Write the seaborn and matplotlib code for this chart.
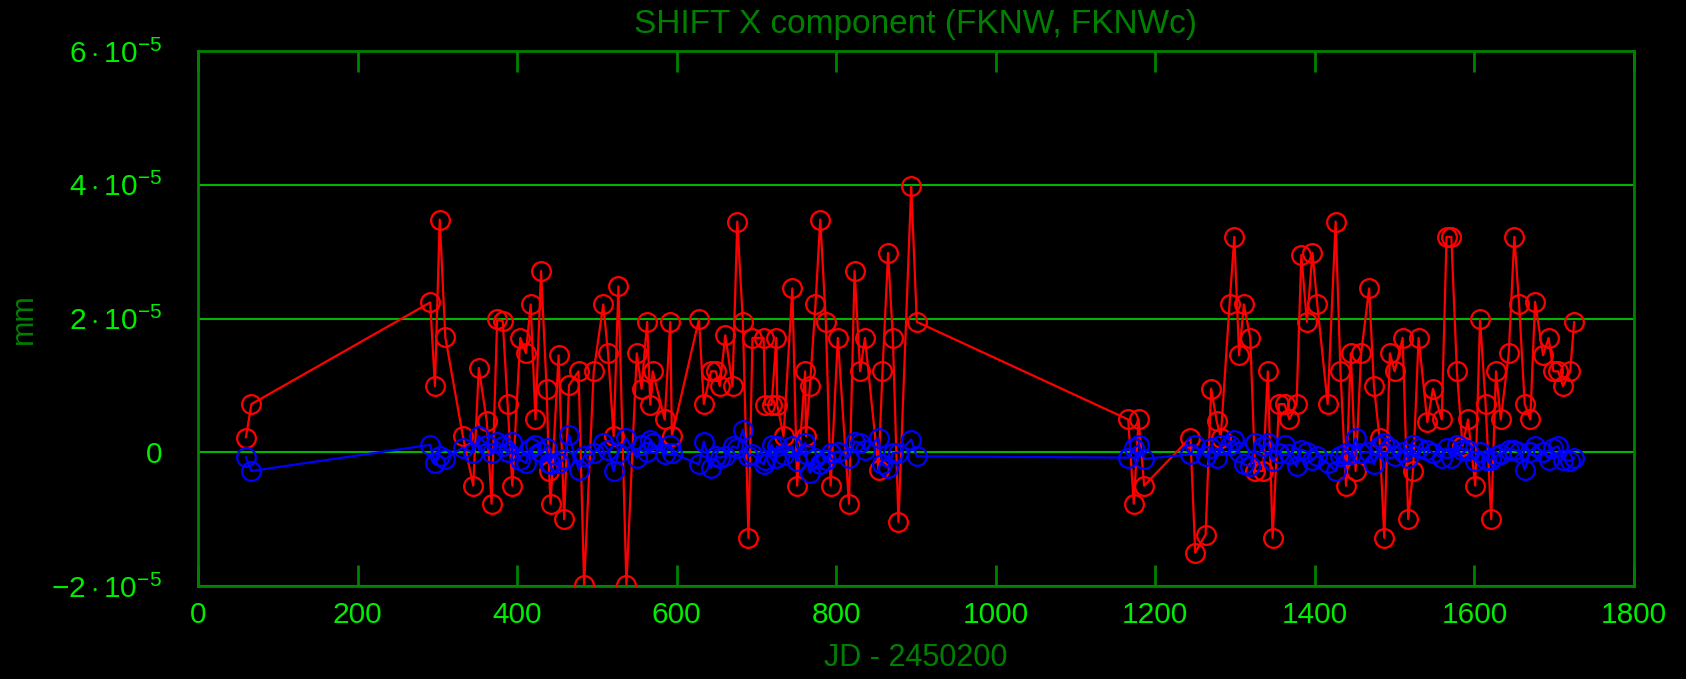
import matplotlib
matplotlib.use("Agg")
import matplotlib.pyplot as plt
import seaborn as sns
import pandas as pd

# Julian dates (JD - 2450200)
jd = [60, 67, 291, 297, 303, 310, 332, 345, 352, 362, 368, 375, 382, 388, 394, 404,
      411, 417, 423, 430, 437, 440, 442, 452, 459, 465, 477, 484, 496, 508, 514, 521,
      527, 537, 550, 556, 563, 567, 570, 585, 592, 594, 628, 634, 643, 649, 654, 661,
      670, 676, 683, 690, 695, 709, 711, 719, 725, 726, 734, 745, 751, 761, 762, 767,
      774, 780, 787, 793, 802, 816, 823, 830, 836, 853, 858, 865, 871, 878, 894, 901,
      1166, 1173, 1179, 1186, 1244, 1250, 1263, 1270, 1277, 1282, 1293, 1299, 1305,
      1311, 1319, 1325, 1335, 1341, 1347, 1355, 1362, 1368, 1377, 1383, 1390, 1397,
      1403, 1416, 1426, 1432, 1439, 1445, 1451, 1458, 1468, 1474, 1481, 1487, 1494,
      1500, 1510, 1517, 1523, 1530, 1541, 1548, 1559, 1565, 1571, 1578, 1585, 1592,
      1601, 1607, 1614, 1621, 1627, 1633, 1643, 1650, 1656, 1663, 1670, 1676, 1686,
      1693, 1699, 1705, 1711, 1720, 1725]

# FKNW shift (units of 1e-5 mm)
fknw = [0.22, 0.72, 2.24, 0.99, 3.48, 1.72, 0.24, -0.50, 1.26, 0.46, -0.77, 1.99, 1.96,
        0.72, -0.50, 1.71, 1.48, 2.21, 0.49, 2.71, 0.95, -0.28, -0.77, 1.45, -1.00, 1.00,
        1.21, -1.99, 1.21, 2.21, 1.48, 0.24, 2.48, -1.99, 1.48, 0.95, 1.95, 0.71, 1.21,
        0.49, 1.95, 0.24, 1.99, 0.72, 1.21, 1.21, 0.99, 1.75, 0.99, 3.45, 1.95, -1.28,
        1.71, 1.71, 0.71, 0.71, 1.71, 0.71, 0.24, 2.45, -0.50, 1.21, 0.24, 0.99, 2.21,
        3.48, 1.95, -0.50, 1.71, -0.77, 2.71, 1.21, 1.71, -0.26, 1.21, 2.98, 1.71, -1.04,
        3.98, 1.95,
        0.49, -0.77, 0.49, -0.50, 0.22, -1.50, -1.23, 0.95, 0.46, 0.22, 2.21, 3.22, 1.45,
        2.21, 1.71, -0.28, -0.28, 1.21, -1.28, 0.72, 0.72, 0.49, 0.72, 2.95, 1.95, 2.98,
        2.21, 0.72, 3.45, 1.22, -0.50, 1.48, -0.28, 1.48, 2.45, 0.99, 0.22, -1.28, 1.48,
        1.21, 1.71, -1.00, -0.28, 1.71, 0.45, 0.95, 0.49, 3.22, 3.22, 1.21, 0.10, 0.49,
        -0.50, 1.99, 0.72, -1.00, 1.21, 0.49, 1.48, 3.22, 2.21, 0.72, 0.49, 2.25, 1.45,
        1.71, 1.21, 1.21, 0.99, 1.21, 1.95]

# FKNWc shift (units of 1e-5 mm)
fknwc = [-0.07, -0.28, 0.11, -0.16, -0.06, -0.10, 0.07, -0.01, 0.24, 0.11, -0.01, 0.16,
         0.09, 0.00, 0.15, -0.11, -0.16, 0.06, 0.11, 0.01, 0.06, -0.16, -0.18, -0.16,
         -0.10, 0.26, -0.26, -0.06, -0.01, 0.14, 0.04, -0.28, -0.01, 0.21, -0.08, 0.11,
         0.01, 0.19, 0.14, -0.03, 0.11, -0.01, -0.18, 0.16, -0.23, -0.06, -0.08, -0.06,
         0.09, 0.06, 0.34, -0.06, -0.03, -0.18, -0.11, 0.11, -0.08, 0.09, -0.04, 0.09,
         -0.13, 0.14, -0.03, -0.31, -0.08, -0.18, -0.11, -0.01, 0.01, -0.08, 0.16, 0.14,
         0.04, 0.21, -0.18, -0.23, -0.01, -0.01, 0.19, -0.06,
         -0.08, 0.06, 0.11, -0.10, -0.03, 0.11, -0.06, 0.06, -0.08, 0.11, 0.11, 0.19,
         0.01, -0.18, -0.21, 0.14, 0.09, 0.14, -0.13, -0.01, 0.11, -0.03, -0.21, 0.04,
         0.01, -0.11, -0.06, -0.16, -0.28, -0.06, -0.01, -0.03, 0.21, -0.01, 0.01, -0.18,
         0.09, 0.14, 0.06, -0.06, 0.01, -0.08, 0.11, 0.06, 0.04, -0.01, -0.08, 0.06,
         -0.08, 0.11, 0.04, 0.04, -0.13, 0.01, -0.11, -0.11, -0.06, -0.03, 0.04, 0.04,
         0.01, -0.26, 0.01, 0.09, 0.01, -0.11, 0.06, 0.09, -0.11, -0.13, -0.08]

xticks = [0, 200, 400, 600, 800, 1000, 1200, 1400, 1600, 1800]
yticks = [-2e-5, 0, 2e-5, 4e-5, 6e-5]
ytick_labels = [r"$-2\cdot10^{-5}$", "0", r"$2\cdot10^{-5}$", r"$4\cdot10^{-5}$", r"$6\cdot10^{-5}$"]

scale = 1e-5
df = pd.DataFrame({"jd": jd,
                   "fknw": [v * scale for v in fknw],
                   "fknwc": [v * scale for v in fknwc]})

sns.set_style("dark")
plt.rcParams["font.family"] = ["Liberation Sans", "DejaVu Sans"]
plt.rcParams["mathtext.fontset"] = "custom"
plt.rcParams["mathtext.rm"] = "Liberation Sans"
plt.rcParams["mathtext.it"] = "Liberation Sans"

dark_green = "#008000"
grid_green = "#00b400"
label_green = "#00ee00"

W, H = 1686, 679
L, R, T, B = 198, 1634, 51, 586

fig = plt.figure(figsize=(W / 100, H / 100), dpi=100, facecolor="black")
ax = fig.add_axes([L / W, 1 - B / H, (R - L) / W, (B - T) / H])
ax.set_facecolor("black")

for y in yticks:
    ax.axhline(y, color=grid_green, linewidth=1.5, zorder=1)

sns.lineplot(data=df, x="jd", y="fknw", ax=ax, color="#ff0000", sort=False,
             estimator=None, linewidth=1.6, marker="o", markersize=13.5,
             markerfacecolor="none", markeredgecolor="#ff0000", markeredgewidth=1.6,
             zorder=3)
sns.lineplot(data=df, x="jd", y="fknwc", ax=ax, color="#0000ff", sort=False,
             estimator=None, linewidth=1.6, marker="o", markersize=13.5,
             markerfacecolor="none", markeredgecolor="#0000ff", markeredgewidth=1.6,
             zorder=4)

ax.set_xlim(0, 1800)
ax.set_ylim(-2e-5, 6e-5)
ax.set_xticks(xticks)
ax.set_xticklabels([str(t) for t in xticks])
ax.set_yticks(yticks)
ax.set_yticklabels(ytick_labels)
ax.grid(False)

ax.tick_params(axis="x", direction="in", length=15, width=2, color=dark_green,
               labelcolor=label_green, labelsize=21.5, top=True, bottom=True, pad=11)
ax.tick_params(axis="y", length=0, labelcolor=label_green, labelsize=21.5, pad=26)

for s in ax.spines.values():
    s.set_color(dark_green)
    s.set_linewidth(2)
    s.set_visible(True)

ax.set_xlabel("JD - 2450200", color=dark_green, fontsize=22)
ax.xaxis.label.set_va("center")
ax.xaxis.set_label_coords(0.5, (B - 658) / (B - T))

ax.set_ylabel("mm", color=dark_green, fontsize=22)
ax.yaxis.label.set_va("center")
ax.yaxis.set_label_coords((24 - L) / (R - L), 0.5)

ax.set_title("SHIFT X component (FKNW, FKNWc)", color=dark_green, fontsize=24,
             y=1 + (T - 24) / (B - T), va="center", pad=0)

fig.savefig("out.png", dpi=100, facecolor="black")
